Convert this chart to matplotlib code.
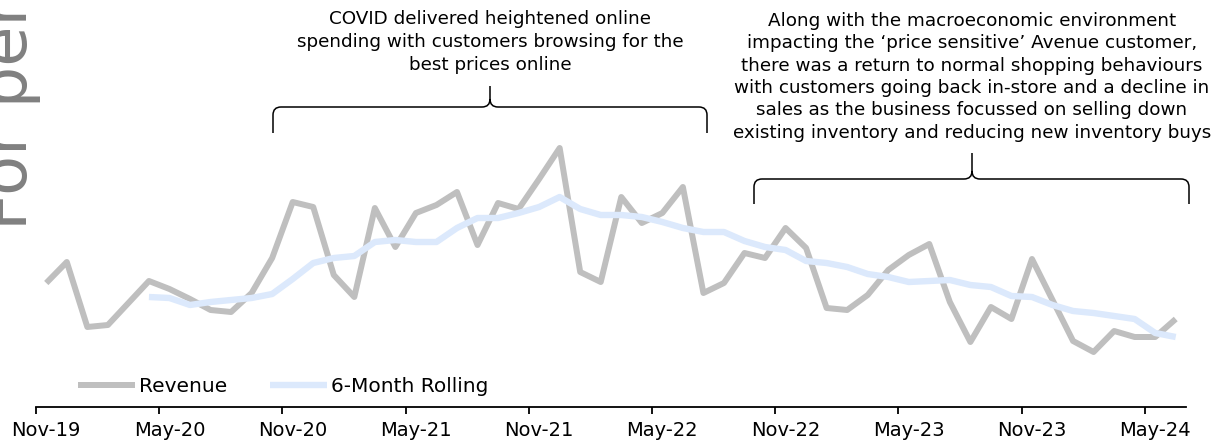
import numpy as np
import matplotlib
matplotlib.use("Agg")
import matplotlib.pyplot as plt
from matplotlib.path import Path
from matplotlib.patches import PathPatch

plt.rcParams['font.family'] = ['DejaVu Sans']

# ---------------- data ----------------
months = ['Nov-19', 'Dec-19', 'Jan-20', 'Feb-20', 'Mar-20', 'Apr-20', 'May-20', 'Jun-20',
          'Jul-20', 'Aug-20', 'Sep-20', 'Oct-20', 'Nov-20', 'Dec-20', 'Jan-21', 'Feb-21',
          'Mar-21', 'Apr-21', 'May-21', 'Jun-21', 'Jul-21', 'Aug-21', 'Sep-21', 'Oct-21',
          'Nov-21', 'Dec-21', 'Jan-22', 'Feb-22', 'Mar-22', 'Apr-22', 'May-22', 'Jun-22',
          'Jul-22', 'Aug-22', 'Sep-22', 'Oct-22', 'Nov-22', 'Dec-22', 'Jan-23', 'Feb-23',
          'Mar-23', 'Apr-23', 'May-23', 'Jun-23', 'Jul-23', 'Aug-23', 'Sep-23', 'Oct-23',
          'Nov-23', 'Dec-23', 'Jan-24', 'Feb-24', 'Mar-24', 'Apr-24', 'May-24', 'Jun-24']

revenue = [11.7, 13.8, 7.3, 7.5, 9.7, 11.9, 11.1, 10.1, 9.0, 8.8, 10.7, 14.2,
           19.8, 19.3, 12.5, 10.3, 19.2, 15.3, 18.7, 19.5, 20.8, 15.5, 19.7, 19.1,
           22.1, 25.2, 12.8, 11.8, 20.3, 17.7, 18.7, 21.3, 10.7, 11.7, 14.7, 14.2,
           17.2, 15.2, 9.2, 9.0, 10.5, 13.0, 14.5, 15.6, 9.8, 5.8, 9.3, 8.1,
           14.1, 10.0, 5.9, 4.8, 6.9, 6.3, 6.3, 8.1]

rolling_6m = [None, None, None, None, None,
              10.3, 10.2, 9.5, 9.8, 10.0, 10.2, 10.6, 12.1, 13.7, 14.2, 14.4, 15.8,
              16.0, 15.8, 15.8, 17.2, 18.2, 18.2, 18.7, 19.3, 20.3, 19.1, 18.5, 18.5,
              18.3, 17.8, 17.2, 16.8, 16.8, 15.9, 15.3, 15.0, 13.9, 13.7, 13.3, 12.6,
              12.3, 11.8, 11.9, 12.0, 11.5, 11.3, 10.4, 10.3, 9.5, 8.9, 8.7, 8.4,
              8.1, 6.7, 6.3]

tick_labels = ['Nov-19', 'May-20', 'Nov-20', 'May-21', 'Nov-21',
               'May-22', 'Nov-22', 'May-23', 'Nov-23', 'May-24']

note_covid = ("COVID delivered heightened online\n"
              "spending with customers browsing for the\n"
              "best prices online")
note_macro = ("Along with the macroeconomic environment\n"
              "impacting the \u2018price sensitive\u2019 Avenue customer,\n"
              "there was a return to normal shopping behaviours\n"
              "with customers going back in-store and a decline in\n"
              "sales as the business focussed on selling down\n"
              "existing inventory and reducing new inventory buys")

# ---------------- figure ----------------
W, H = 1211, 442
fig = plt.figure(figsize=(W / 100, H / 100), dpi=100)

x = np.arange(len(months))
rev = np.array(revenue, dtype=float)
roll = np.array([np.nan if v is None else v for v in rolling_6m], dtype=float)

ax = fig.add_axes([36 / W, 35 / H, 1150 / W, 267 / H])
ax.plot(x, rev, color='#BFBFBF', lw=4.3, solid_joinstyle='round', solid_capstyle='butt',
        label='Revenue', zorder=2)
ax.plot(x, roll, color='#DCE9FC', lw=4.6, solid_joinstyle='round', solid_capstyle='butt',
        label='6-Month Rolling', zorder=3)

ax.set_xlim(-0.5, len(months) - 0.5)
ax.set_ylim(-0.7, 26.0)

for s in ['top', 'right', 'left']:
    ax.spines[s].set_visible(False)
ax.spines['bottom'].set_linewidth(1.3)
ax.set_yticks([])

label_pos = [months.index(t) for t in tick_labels]
ax.set_xticks([p - 0.5 for p in label_pos])
ax.set_xticklabels([])
ax.tick_params(axis='x', which='major', length=5, width=1.3, direction='out')
ax.set_xticks(label_pos, minor=True)
ax.set_xticklabels(tick_labels, minor=True, fontsize=14)
ax.tick_params(axis='x', which='minor', length=0, pad=10)

leg = ax.legend(ncol=2, frameon=False, fontsize=14.5, handlelength=2.85, handletextpad=0.2,
                columnspacing=2.1, borderpad=0, borderaxespad=0, loc='center left',
                bbox_to_anchor=(78 / W, 1 - 387 / H), bbox_transform=fig.transFigure)

# ---------------- overlay (pixel coordinates) ----------------
ov = fig.add_axes([0, 0, 1, 1], facecolor='none')
ov.set_xlim(0, W)
ov.set_ylim(H, 0)
ov.axis('off')


def brace(x0, x1, xm, yl, yb, yt, r=8):
    verts = [(x0, yb), (x0, yl + r), (x0, yl), (x0 + r, yl),
             (xm - r, yl), (xm, yl), (xm, yl - r), (xm, yt),
             (xm, yl - r), (xm, yl), (xm + r, yl),
             (x1 - r, yl), (x1, yl), (x1, yl + r), (x1, yb)]
    codes = [Path.MOVETO, Path.LINETO, Path.CURVE3, Path.CURVE3,
             Path.LINETO, Path.CURVE3, Path.CURVE3, Path.LINETO,
             Path.MOVETO, Path.CURVE3, Path.CURVE3,
             Path.LINETO, Path.CURVE3, Path.CURVE3, Path.LINETO]
    ov.add_patch(PathPatch(Path(verts, codes), fill=False, lw=1.1, ec='black',
                           capstyle='butt'))


brace(273, 707, 490, 107, 133, 86)
brace(754, 1189, 972, 179, 204, 153)

ov.text(490, 10, note_covid, ha='center', va='top', fontsize=13.2, linespacing=1.34)
ov.text(972, 12, note_macro, ha='center', va='top', fontsize=13.2, linespacing=1.31)

ov.text(27, 230, 'For personal use only', rotation=90, rotation_mode='anchor',
        ha='left', va='baseline', fontsize=47, color='#808080')

fig.savefig('out.png', dpi=100)
